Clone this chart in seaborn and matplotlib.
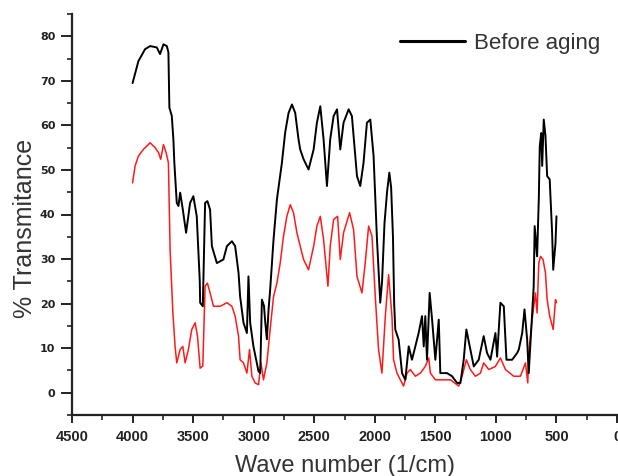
import numpy as np
import pandas as pd
import seaborn as sns
import matplotlib.pyplot as plt
from matplotlib.ticker import MultipleLocator

sns.set_style('ticks')
plt.rcParams['font.family'] = ['Liberation Sans', 'DejaVu Sans']

# FTIR spectrum before aging (black)
wn_before = [4000, 3990, 3952, 3897, 3855, 3800, 3773, 3745, 3717, 3704, 3696, 3676,
             3663, 3655, 3635, 3621, 3607, 3585, 3558, 3525, 3498, 3470, 3445, 3442,
             3420, 3401, 3382, 3360, 3345, 3304, 3250, 3221, 3180, 3153, 3125, 3112,
             3084, 3056, 3043, 3029, 3002, 2960, 2946, 2932, 2915, 2905, 2891, 2877,
             2864, 2836, 2808, 2767, 2740, 2712, 2684, 2657, 2630, 2616, 2588, 2547,
             2505, 2478, 2450, 2423, 2395, 2368, 2340, 2312, 2285, 2258, 2216, 2189,
             2147, 2120, 2093, 2065, 2037, 2010, 1982, 1955, 1940, 1920, 1899, 1880,
             1865, 1850, 1840, 1831, 1803, 1775, 1748, 1720, 1693, 1679, 1638, 1610,
             1596, 1583, 1569, 1547, 1527, 1500, 1472, 1459, 1403, 1362, 1321, 1293,
             1266, 1244, 1216, 1183, 1142, 1101, 1073, 1045, 1004, 990, 963, 935,
             913, 866, 825, 811, 783, 764, 742, 729, 715, 688, 680, 660,
             646, 638, 626, 618, 605, 591, 577, 556, 536, 527, 508, 500]
t_before = [69.5, 70.5, 74.4, 77.1, 77.8, 77.5, 76.0, 78.2, 77.8, 76.4, 64.0, 62.1,
            56.9, 51.6, 42.6, 41.9, 44.9, 41.1, 35.9, 42.6, 44.1, 39.6, 25.0, 20.2,
            19.4, 42.6, 43.0, 41.1, 32.9, 29.1, 29.9, 32.9, 34.0, 32.9, 26.9, 21.6,
            15.7, 13.4, 26.1, 15.7, 10.4, 4.8, 4.4, 20.9, 19.5, 16.0, 12.0, 18.7,
            23.1, 34.4, 43.4, 51.6, 58.4, 62.8, 64.7, 62.8, 56.9, 54.6, 52.4, 50.1,
            54.6, 60.6, 64.3, 56.9, 46.4, 56.9, 62.1, 63.6, 54.6, 60.6, 63.6, 62.1,
            48.6, 46.4, 51.6, 60.6, 61.3, 53.1, 34.4, 20.2, 25.0, 38.0, 45.0, 49.4,
            46.0, 35.0, 20.0, 14.2, 11.9, 4.4, 2.9, 10.4, 7.4, 8.9, 13.4, 17.2,
            10.4, 17.2, 7.4, 22.4, 16.4, 7.4, 16.4, 4.4, 4.4, 3.7, 2.2, 2.2,
            7.4, 14.2, 10.4, 5.9, 7.4, 12.7, 8.9, 7.4, 13.4, 8.1, 20.2, 19.4,
            7.4, 7.4, 8.9, 9.7, 13.4, 18.7, 11.9, 4.4, 11.1, 23.9, 37.4, 30.6,
            43.4, 55.3, 58.3, 50.9, 61.3, 57.7, 48.6, 47.9, 35.9, 27.6, 33.6, 39.6]

# FTIR spectrum after aging (red)
wn_after = [4000, 3979, 3952, 3911, 3855, 3814, 3786, 3767, 3745, 3723, 3704, 3690,
            3667, 3649, 3635, 3607, 3585, 3566, 3539, 3511, 3483, 3464, 3442, 3420,
            3401, 3382, 3360, 3332, 3277, 3221, 3180, 3153, 3125, 3112, 3084, 3056,
            3034, 3015, 2988, 2960, 2940, 2919, 2891, 2864, 2836, 2808, 2781, 2754,
            2726, 2698, 2671, 2643, 2616, 2588, 2547, 2505, 2478, 2450, 2423, 2387,
            2368, 2340, 2307, 2285, 2258, 2208, 2175, 2147, 2106, 2079, 2051, 2023,
            1996, 1969, 1941, 1913, 1886, 1858, 1845, 1817, 1789, 1762, 1734, 1707,
            1665, 1624, 1583, 1555, 1541, 1500, 1431, 1376, 1307, 1279, 1244, 1211,
            1169, 1128, 1101, 1059, 1004, 963, 921, 853, 798, 756, 737, 729,
            701, 674, 660, 646, 632, 611, 591, 577, 556, 527, 508, 500]
t_after = [47.1, 50.9, 53.1, 54.6, 56.1, 55.0, 53.9, 52.4, 55.7, 53.9, 51.6, 32.1,
           17.9, 10.4, 6.7, 9.7, 10.4, 6.7, 9.7, 14.2, 15.7, 12.7, 5.5, 6.0,
           23.9, 24.6, 22.4, 19.4, 19.4, 20.2, 19.4, 17.2, 12.7, 7.4, 6.7, 4.4,
           9.7, 3.7, 2.2, 1.8, 6.7, 2.9, 6.7, 14.2, 21.6, 24.6, 29.1, 35.1,
           39.6, 42.2, 40.4, 35.9, 32.9, 29.9, 27.6, 32.9, 37.4, 39.6, 34.4, 23.9,
           32.9, 38.9, 39.6, 29.9, 35.9, 40.4, 36.6, 26.1, 22.4, 29.1, 37.4, 35.1,
           21.6, 9.7, 4.4, 17.2, 26.5, 17.0, 7.4, 4.4, 2.9, 1.5, 4.4, 5.2,
           3.7, 4.4, 5.9, 7.8, 4.4, 2.9, 2.9, 2.9, 1.5, 3.7, 7.4, 5.2,
           3.7, 4.4, 6.7, 5.2, 5.9, 7.8, 5.2, 3.7, 3.7, 6.7, 2.2, 8.9,
           16.4, 22.4, 17.9, 29.1, 30.6, 29.9, 26.9, 20.9, 17.2, 14.2, 20.9, 20.2]

df_before = pd.DataFrame({'wn': wn_before, 't': t_before})
df_after = pd.DataFrame({'wn': wn_after, 't': t_after})

fig = plt.figure(figsize=(6.18, 4.76), dpi=100)
ax = fig.add_axes([72 / 618, 61 / 476, 546 / 618, 401 / 476])

sns.lineplot(data=df_after, x='wn', y='t', color='#ff1a1a', linewidth=1.1,
             estimator=None, sort=False, label='_nolegend_', ax=ax)
sns.lineplot(data=df_before, x='wn', y='t', color='black', linewidth=1.4,
             estimator=None, sort=False, label='Before aging', ax=ax)

ax.set_xlim(4500, -8)
ax.set_ylim(-5, 85)
ax.xaxis.set_major_locator(MultipleLocator(500))
ax.xaxis.set_minor_locator(MultipleLocator(250))
ax.yaxis.set_major_locator(MultipleLocator(10))
ax.yaxis.set_minor_locator(MultipleLocator(5))
ax.set_yticks(np.arange(0, 81, 10))

ax.tick_params(axis='x', which='major', direction='out', length=6, width=1.4, pad=5,
               labelsize=10.5, colors='#222222')
ax.tick_params(axis='y', which='major', direction='out', length=8, width=1.4, pad=4,
               labelsize=8, colors='#222222')
ax.tick_params(which='minor', direction='out', length=3.5, width=1.2, colors='#222222')
for lab in ax.get_xticklabels():
    lab.set_fontweight('bold')
for lab in ax.get_yticklabels():
    lab.set_fontweight('bold')
    lab.set_family('DejaVu Sans')

sns.despine(ax=ax)
ax.spines['left'].set_linewidth(1.6)
ax.spines['bottom'].set_linewidth(1.6)
ax.spines['left'].set_color('#222222')
ax.spines['bottom'].set_color('#222222')

ax.set_xlabel('Wave number (1/cm)', fontsize=17, color='#333333')
ax.set_ylabel('% Transmitance', fontsize=18, color='#333333')
ax.xaxis.set_label_coords(0.5, -0.1)
ax.yaxis.set_label_coords(-0.064, 0.466)

ax.legend(loc='center right', bbox_to_anchor=(620 / 618, 1 - 43 / 476),
          bbox_transform=fig.transFigure, frameon=False, fontsize=16,
          handlelength=2.9, handletextpad=0.4)
leg = ax.get_legend()
for line in leg.get_lines():
    line.set_linewidth(2.2)
for txt in leg.get_texts():
    txt.set_color('#333333')

fig.savefig('out.png', dpi=100)
